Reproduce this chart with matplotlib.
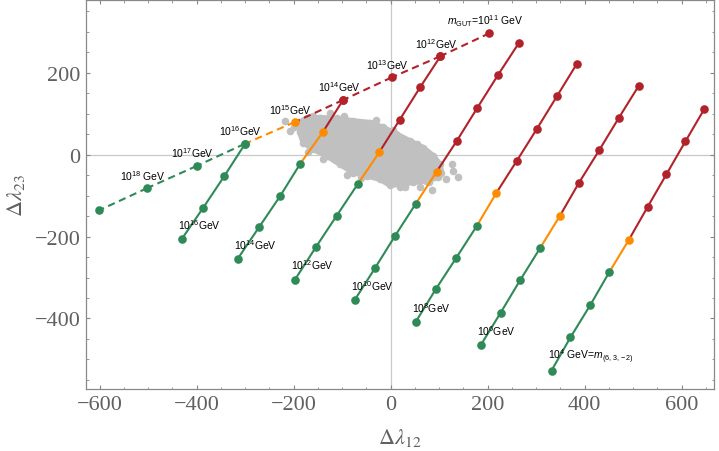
import numpy as np
import matplotlib
matplotlib.use("Agg")
import matplotlib.pyplot as plt

plt.rcParams['mathtext.fontset'] = 'custom'
plt.rcParams['mathtext.rm'] = 'Liberation Sans'
plt.rcParams['mathtext.it'] = 'Liberation Sans:italic'

# dashed m_GUT line, ordered from the top (10^11) down to the left end
gut_x = [204, 103, 2, -98, -198, -301, -400, -502, -601]
gut_y = [296, 240, 188, 133, 79, 26, -28, -82, -136]
gut_orange = 4
gut_labels = ['$m_{\\rm GUT}$=$10^{11}$ GeV', '$10^{12}$GeV', '$10^{13}$GeV', '$10^{14}$GeV',
              '$10^{15}$GeV', '$10^{16}$GeV', '$10^{17}$GeV', '$10^{18}$ GeV', '']

# solid lines (m_(6,3,-2) scans), each ordered from top to bottom
line_x = [
    [-300, -343, -387, -431],
    [-98, -140, -186, -228, -271, -315],
    [103, 61, 19, -23, -67, -111, -154, -197],
    [264, 221, 179, 137, 95, 52, 9, -32, -74],
    [384, 343, 302, 260, 218, 178, 135, 93, 52],
    [512, 471, 430, 388, 349, 308, 267, 227, 186],
    [647, 608, 569, 530, 491, 451, 412, 371, 332],
]
line_y = [
    [26, -53, -131, -207],
    [133, 54, -22, -102, -177, -254],
    [240, 164, 85, 6, -71, -149, -226, -305],
    [271, 193, 114, 34, -42, -120, -199, -277, -355],
    [221, 142, 63, -16, -94, -174, -253, -329, -408],
    [168, 90, 10, -70, -150, -229, -307, -386, -465],
    [111, 32, -48, -128, -209, -287, -367, -446, -527],
]
line_orange = [-1, 1, 3, 4, 4, 4, 4]
line_labels = ['$10^{16}$GeV', '$10^{14}$GeV', '$10^{12}$GeV', '$10^{10}$GeV',
               '$10^{8}$GeV', '$10^{6}$GeV', '$10^{4}$ GeV=$m_{(6,3,-2)}$']

# grey scan cloud: outline and stray points
cloud_x = [-190, -173, -146, -111, -77, -43, -15, 12, 40, 67, 88, 102, 105, 98, 74, 47, 19, -1,
           -22, -49, -77, -104, -132, -160, -180, -187]
cloud_y = [78, 88, 90, 88, 82, 78, 66, 50, 33, 17, -3, -24, -44, -56, -64, -68, -72, -75,
           -60, -52, -44, -24, -3, 13, 29, 54]
stray_x = [-218, -208, -125, 126, 128, 139, 115, 86, -200, 60, 30, -160, -95, -30, 5, 55,
           -140, -90, -60, 20, 80, -170]
stray_y = [82, 58, 101, -24, -40, -56, -60, -86, 66, -78, -80, 95, 93, 84, 60, 25,
           -10, -50, -58, -80, -68, 5]

RED = '#b2222a'
ORANGE = '#ff8c00'
GREEN = '#2e8b57'
GREY = '#c0c0c0'


def col(i, k):
    if i < k:
        return RED
    if i == k:
        return ORANGE
    return GREEN


fig = plt.figure(figsize=(7.19, 4.52), dpi=100)
ax = fig.add_axes([86 / 719, 1 - 390 / 452, 628 / 719, 389 / 452])

ax.axhline(0, color='#c8c8c8', lw=0.9, zorder=0)
ax.axvline(0, color='#c8c8c8', lw=0.9, zorder=0)

ax.fill(cloud_x, cloud_y, color=GREY, lw=4, ec=GREY, joinstyle='round', zorder=1)
ax.scatter(cloud_x, cloud_y, s=30, color=GREY, lw=0, zorder=1)
ax.scatter(stray_x, stray_y, s=30, color=GREY, lw=0, zorder=1)

# dashed line
for i in range(len(gut_x) - 1):
    ax.plot(gut_x[i:i + 2], gut_y[i:i + 2], color=col(i, gut_orange), lw=1.5,
            dashes=(3.5, 2.2), zorder=2)
for i in range(len(gut_x)):
    ax.plot(gut_x[i], gut_y[i], 'o', color=col(i, gut_orange), ms=6.2, mew=0, zorder=3)
    if gut_labels[i]:
        ax.annotate(gut_labels[i], (gut_x[i], gut_y[i]), xytext=(-4, 13.5),
                    textcoords='offset pixels', ha='center', va='center', fontsize=7.5,
                    family='Liberation Sans', zorder=4)

# solid lines
for xs, ys, k, lab in zip(line_x, line_y, line_orange, line_labels):
    for i in range(len(xs) - 1):
        ax.plot(xs[i:i + 2], ys[i:i + 2], color=col(i, k), lw=1.5, zorder=2)
    for i in range(len(xs)):
        ax.plot(xs[i], ys[i], 'o', color=col(i, k), ms=6.2, mew=0, zorder=3)
    ax.annotate(lab, (xs[-1], ys[-1]), xytext=(-4, 15), textcoords='offset pixels',
                ha='left', va='center', fontsize=7.5, family='Liberation Sans', zorder=4)

ax.set_xlim(-628, 667)
ax.set_ylim(-572, 377)
ax.set_xticks([-600, -400, -200, 0, 200, 400, 600])
ax.set_yticks([-400, -200, 0, 200])
ax.set_xticklabels(['\u2212600', '\u2212400', '\u2212200', '0', '200', '400', '600'])
ax.set_yticklabels(['\u2212400', '\u2212200', '0', '200'])
ax.set_xticks(np.arange(-600, 667, 50), minor=True)
ax.set_yticks(np.arange(-550, 377, 50), minor=True)
ax.tick_params(which='both', direction='in', top=True, right=True, color='#888888')
ax.tick_params(which='major', length=3.2, width=0.8, labelsize=16, labelcolor='#606060', pad=4)
ax.tick_params(which='minor', length=1.8, width=0.6)
for lab in ax.get_xticklabels() + ax.get_yticklabels():
    lab.set_family('Liberation Serif')
for s in ax.spines.values():
    s.set_color('#888888')
    s.set_linewidth(0.9)

ax.set_xlabel('$\\Delta\\lambda_{12}$', fontsize=16, color='#606060', math_fontfamily='stix',
              va='center')
ax.xaxis.set_label_coords(0.5, -0.123)
ax.set_ylabel('$\\Delta\\lambda_{23}$', fontsize=16, color='#606060', math_fontfamily='stix',
              va='center')
ax.yaxis.set_label_coords(-0.111, 0.5)

fig.savefig('out.png', dpi=100)
